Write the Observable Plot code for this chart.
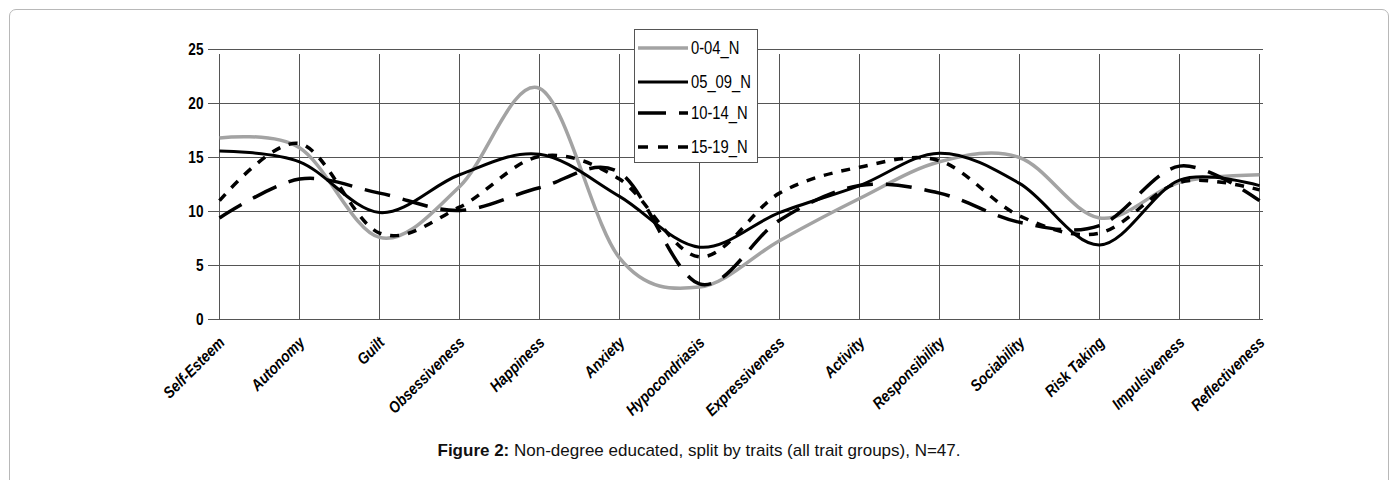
<!DOCTYPE html>
<html><head><meta charset="utf-8">
<script src="https://cdn.jsdelivr.net/npm/d3@7"></script>
<script src="https://cdn.jsdelivr.net/npm/@observablehq/plot@0.6"></script>
<style>
body{margin:0;background:#fff;width:1398px;height:480px;overflow:hidden;position:relative;font-family:"Liberation Sans",Arial,sans-serif}
#frame{position:absolute;left:9px;top:9px;width:1380px;height:520px;border:1.5px solid #b8b8b8;border-radius:7px;box-sizing:border-box}
#chart{position:absolute;left:0;top:0}
#legend{position:absolute;left:634px;top:29px;width:160px;height:136px}
#caption{position:absolute;left:0;width:1398px;top:441px;text-align:center;font-size:17px;color:#111}
</style></head><body>
<div id="frame"></div>
<div id="chart"></div>
<div id="legend"></div>
<div id="caption"><b>Figure 2:</b> Non-degree educated, split by traits (all trait groups), N=47.</div>
<script>
const traits = ["Self-Esteem","Autonomy","Guilt","Obsessiveness","Happiness","Anxiety","Hypocondriasis","Expressiveness","Activity","Responsibility","Sociability","Risk Taking","Impulsiveness","Reflectiveness"];
const seriesNames = ["0-04_N","05_09_N","10-14_N","15-19_N"];
const s0004 = [16.8, 15.9, 7.6, 12.3, 21.4, 5.7, 3.0, 7.3, 11.2, 14.6, 15.0, 9.4, 12.7, 13.4];
const s0509 = [15.6, 14.6, 9.9, 13.4, 15.3, 11.4, 6.7, 9.9, 12.4, 15.4, 12.6, 6.9, 12.9, 12.4];
const s1014 = [9.4, 13.0, 11.7, 10.1, 12.2, 13.6, 3.3, 9.2, 12.4, 11.7, 9.0, 8.7, 14.2, 11.0];
const s1519 = [11.0, 16.3, 8.0, 10.4, 15.1, 13.0, 5.8, 11.7, 14.1, 14.7, 9.6, 8.0, 12.7, 12.0];
const yTicks = [0, 5, 10, 15, 20, 25];

const allValues = [s0004, s0509, s1014, s1519];
const lineStyles = [
  {stroke: "#a3a3a3", strokeWidth: 3.5, dash: null},
  {stroke: "#000", strokeWidth: 3, dash: null},
  {stroke: "#000", strokeWidth: 3.5, dash: "26 13"},
  {stroke: "#000", strokeWidth: 3.5, dash: "9 9"}
];

const rows = [];
seriesNames.forEach((s, i) => allValues[i].forEach((v, j) => rows.push({series: s, trait: traits[j], value: v})));

const sans = '"Liberation Sans",Arial,sans-serif';
const curve = d3.curveCatmullRom.alpha(0);

const lineMarks = seriesNames.map((s, i) => Plot.line(rows.filter(r => r.series === s), {
  x: "trait", y: "value", curve,
  stroke: lineStyles[i].stroke, strokeWidth: lineStyles[i].strokeWidth,
  strokeDasharray: lineStyles[i].dash, strokeLinecap: "butt", strokeLinejoin: "round"
}));

const chart = Plot.plot({
  width: 1398, height: 480,
  marginLeft: 214, marginRight: 135, marginTop: 49, marginBottom: 161,
  style: {fontFamily: sans, background: "transparent", overflow: "visible"},
  x: {type: "point", domain: traits, padding: 0, axis: null},
  y: {domain: [0, 25]},
  marks: [
    Plot.gridY(yTicks, {stroke: "#555", strokeOpacity: 1, strokeWidth: 1}),
    Plot.ruleX(traits, {x: d => d, y1: 0, y2: 25, stroke: "#555", strokeWidth: 1, insetBottom: -5}),
    Plot.axisY(yTicks, {tickSize: 6, tickPadding: 5, fontSize: 17, fontWeight: "bold", stroke: "#555", color: "#000", label: null}),
    ...lineMarks,
    Plot.text(traits, {x: d => d, y: 0, text: d => d, rotate: -45, textAnchor: "end", lineAnchor: "top",
      dx: -2, dy: 16, fontSize: 16, fontWeight: "bold", fontStyle: "italic", fill: "#000"})
  ]
});
document.getElementById("chart").appendChild(chart);

// condense text (Arial Narrow look)
function squeeze(nodes, f) {
  nodes.forEach(t => {
    const L = t.getComputedTextLength();
    if (L > 0) { t.setAttribute("textLength", (L * f).toFixed(2)); t.setAttribute("lengthAdjust", "spacingAndGlyphs"); }
  });
}
chart.querySelectorAll("g[aria-label='y-axis tick label'] text").forEach(t => squeeze([t], 0.8));
chart.querySelectorAll("g[aria-label='text'] text").forEach(t => squeeze([t], 0.86));

// legend
const lg = d3.select("#legend").append("svg").attr("width", 160).attr("height", 136)
  .style("position", "absolute").style("left", "0px").style("top", "0px").style("overflow", "visible");
lg.append("rect").attr("x", 0.5).attr("y", 0.5).attr("width", 123).attr("height", 133)
  .attr("fill", "#fff").attr("stroke", "#555").attr("stroke-width", 1);
const legendY = [19, 53, 84, 118];
seriesNames.forEach((s, i) => {
  const st = lineStyles[i];
  lg.append("line").attr("x1", 4).attr("x2", 54).attr("y1", legendY[i]).attr("y2", legendY[i])
    .attr("stroke", st.stroke).attr("stroke-width", st.strokeWidth)
    .attr("stroke-dasharray", i === 2 ? "28 13" : i === 3 ? "10 10" : null);
  const tx = lg.append("text").attr("x", 57).attr("y", legendY[i]).attr("dy", "0.36em")
    .attr("font-family", sans).attr("font-size", 18).attr("fill", "#000").text(s);
  squeeze([tx.node()], 0.82);
});
</script>
</body></html>
